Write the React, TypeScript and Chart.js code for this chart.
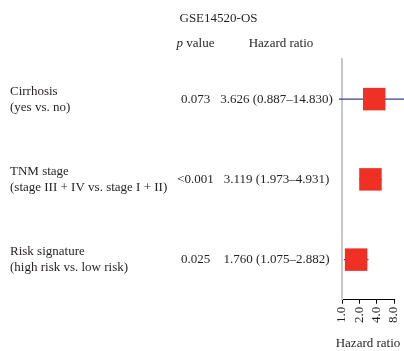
import { useEffect, useRef } from 'react';
import { Chart, registerables } from 'chart.js';

Chart.register(...registerables);

// Cox regression results for the GSE14520 overall-survival cohort
const cohort = 'GSE14520-OS';
const factors = ['Cirrhosis', 'TNM stage', 'Risk signature'];
const comparisons = ['(yes vs. no)', '(stage III + IV vs. stage I + II)', '(high risk vs. low risk)'];
const pValues = ['0.073', '<0.001', '0.025'];
const hazardRatios = [3.626, 3.119, 1.76];
const lowerCI = [0.887, 1.973, 1.075];
const upperCI = [14.83, 4.931, 2.882];
const axisTicks = [1, 2, 4, 8];
const axisTitle = 'Hazard ratio';

const SERIF = '"Liberation Serif", "DejaVu Serif", serif';
const INK = '#231f20';
const BOX = '#ee3124';
const WHISKER = '#3b3d98';

const fmt = (v: number) => v.toFixed(3);

// Draws the header, the text columns and the axis caption around the forest plot
const tablePlugin = {
  id: 'forestTable',
  afterDraw(chart: any) {
    const ctx: CanvasRenderingContext2D = chart.ctx;
    const yScale = chart.scales.y;
    const xScale = chart.scales.x;
    ctx.save();
    ctx.fillStyle = INK;
    ctx.textBaseline = 'alphabetic';

    ctx.font = `13px ${SERIF}`;
    ctx.textAlign = 'center';
    ctx.fillText(cohort, 218.5, 22);
    ctx.fillText('Hazard ratio', 281, 47);
    ctx.fillText(axisTitle, (xScale.left + xScale.right) / 2, 347);

    // "p value" with an italic p
    ctx.textAlign = 'left';
    ctx.font = `italic 13px ${SERIF}`;
    const pW = ctx.measureText('p').width;
    ctx.font = `13px ${SERIF}`;
    const restW = ctx.measureText(' value').width;
    const startX = 195.5 - (pW + restW) / 2;
    ctx.font = `italic 13px ${SERIF}`;
    ctx.fillText('p', startX, 47);
    ctx.font = `13px ${SERIF}`;
    ctx.fillText(' value', startX + pW, 47);

    factors.forEach((name, i) => {
      const cy = yScale.getPixelForValue(i);
      ctx.textAlign = 'left';
      ctx.textBaseline = 'middle';
      ctx.fillText(name, 10, cy - 8);
      ctx.fillText(comparisons[i], 10, cy + 8);
      ctx.textAlign = 'center';
      ctx.fillText(pValues[i], 195.5, cy);
      ctx.fillText(`${fmt(hazardRatios[i])} (${fmt(lowerCI[i])}–${fmt(upperCI[i])})`, 276.5, cy);
    });
    ctx.restore();
  },
};

export default function App() {
  const canvasRef = useRef<HTMLCanvasElement | null>(null);

  useEffect(() => {
    const canvas = canvasRef.current;
    if (!canvas) return;

    // Confidence-interval whiskers, one per factor
    const whiskers = factors.map((_, i) => ({
      data: [
        { x: lowerCI[i], y: i },
        { x: upperCI[i], y: i },
      ],
      showLine: true,
      borderColor: WHISKER,
      borderWidth: 1.2,
      pointRadius: 0,
      clip: false as const,
      order: 1,
    }));

    const chart = new Chart(canvas, {
      type: 'scatter',
      data: {
        datasets: [
          {
            data: hazardRatios.map((hr, i) => ({ x: hr, y: i })),
            pointStyle: 'rect',
            pointRadius: 15.9,
            backgroundColor: BOX,
            borderColor: BOX,
            borderWidth: 0,
            clip: false as const,
            order: 0,
          },
          ...whiskers,
        ],
      },
      options: {
        animation: false,
        responsive: true,
        maintainAspectRatio: false,
        layout: { autoPadding: false, padding: { left: 342, right: 10, top: 59, bottom: 25 } },
        plugins: {
          legend: { display: false },
          tooltip: { enabled: false },
        },
        scales: {
          x: {
            type: 'logarithmic',
            min: 1,
            max: 8,
            afterBuildTicks: (scale: any) => {
              scale.ticks = axisTicks.map((v) => ({ value: v }));
            },
            afterFit: (scale: any) => {
              scale.paddingRight = 0;
              scale.paddingLeft = 0;
            },
            ticks: {
              autoSkip: false,
              callback: (v: any) => Number(v).toFixed(1),
              minRotation: 90,
              maxRotation: 90,
              padding: 3,
              color: INK,
              font: { family: SERIF, size: 13 },
            },
            grid: {
              display: true,
              drawOnChartArea: false,
              drawTicks: true,
              tickLength: 4,
              color: '#000',
            },
            border: { display: true, color: '#000', width: 1 },
          },
          y: {
            type: 'linear',
            min: -0.5,
            max: 2.5,
            reverse: true,
            ticks: { display: false },
            grid: { display: false, drawTicks: false },
            border: { display: true, color: '#c8c8c8', width: 2 },
          },
        },
      },
      plugins: [tablePlugin],
    });

    return () => chart.destroy();
  }, []);

  return (
    <div style={{ position: 'fixed', left: 0, top: 0, width: 404, height: 351, background: '#fff' }}>
      <canvas ref={canvasRef} />
    </div>
  );
}
